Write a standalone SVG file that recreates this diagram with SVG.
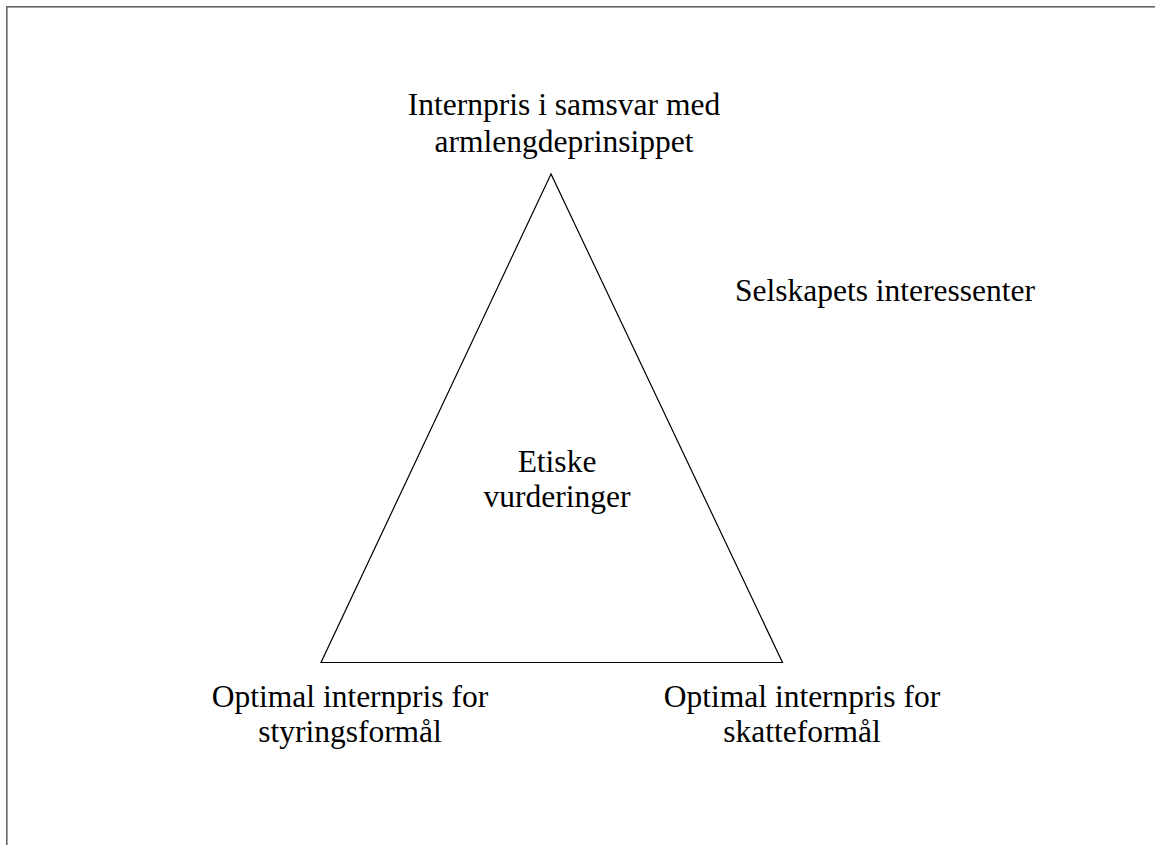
<svg xmlns="http://www.w3.org/2000/svg" width="1155" height="845" viewBox="0 0 1155 845">
  <style>
    text { font-family: "Liberation Serif", "Times New Roman", serif; font-size: 31.5px; fill: #000; text-anchor: middle; }
    .frame { fill: none; stroke: #666; stroke-width: 1.6; }
    .edge { fill: none; stroke: #000; stroke-width: 1.2; }
  </style>
  <rect width="1155" height="845" fill="#fff"/>
  <!-- outer frame; right and bottom edges run past the canvas -->
  <rect class="frame" x="6.8" y="6.8" width="1160" height="850"/>
  <g id="connectors">
    <polygon id="triangle" class="edge" points="551,174 321,662.5 782.5,662.5"/>
  </g>
  <g id="node-top">
    <text x="564" y="115">Internpris i samsvar med</text>
    <text x="564" y="152">armlengdeprinsippet</text>
  </g>
  <g id="node-stakeholders">
    <text x="885" y="301">Selskapets interessenter</text>
  </g>
  <g id="node-center">
    <text x="557" y="472">Etiske</text>
    <text x="557" y="507">vurderinger</text>
  </g>
  <g id="node-left">
    <text x="350" y="707">Optimal internpris for</text>
    <text x="350" y="742">styringsformål</text>
  </g>
  <g id="node-right">
    <text x="802" y="707">Optimal internpris for</text>
    <text x="802" y="742">skatteformål</text>
  </g>
</svg>
